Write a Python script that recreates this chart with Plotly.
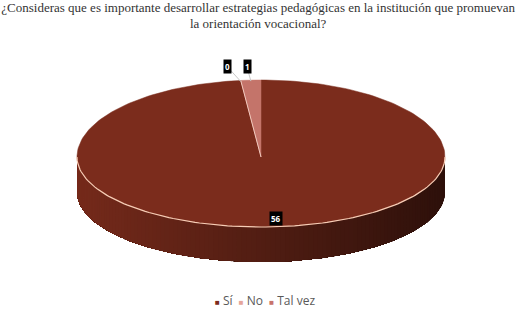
import math
import plotly.graph_objects as go

# ---- data ----
TITLE = "¿Consideras que es importante desarrollar estrategias pedagógicas en la institución que promuevan<br>la orientación vocacional?"
CATEGORIES = ["Sí", "No", "Tal vez"]
VALUES = [56, 0, 1]

# ---- style ----
COLORS = [(123, 44, 28), (229, 165, 154), (196, 116, 106)]
LEGEND_COLORS = ["#7b2c1c", "#e5a59a", "#c8736b"]
W, H = 529, 313
CX, CY = 261, 157
RX, RY_T, RY_B = 184, 77, 70
DEPTH = 35


def rim(theta_deg, k=1.0, dy=0.0):
    t = math.radians(theta_deg)
    c = math.cos(t)
    ry = RY_T if c > 0 else RY_B
    return CX + RX * k * math.sin(t), CY - ry * k * c + dy


def rgb(c, f=1.0):
    return "rgb(%d,%d,%d)" % tuple(max(0, min(255, round(v * f))) for v in c)


total = sum(VALUES)
starts, ends = [], []
acc = 0.0
for v in VALUES:
    starts.append(acc / total * 360)
    acc += v
    ends.append(acc / total * 360)


def slice_at(theta):
    for i, (s, e) in enumerate(zip(starts, ends)):
        if s <= theta < e and VALUES[i] > 0:
            return i
    return 0


fig = go.Figure()

# ---- side wall (front half, angles 90..270 clockwise from top) ----
N = 120
for j in range(N):
    a1 = 90 + 180 * j / N
    a2 = 90 + 180 * (j + 1) / N
    xs, ys = [], []
    steps = N - j
    for k in range(steps + 1):
        a = a1 + (270 - a1) * k / steps
        px, py = rim(a)
        xs.append(px)
        ys.append(py)
    bx = [p for p in reversed(xs)]
    by = [p + DEPTH for p in reversed(ys)]
    xm = (rim(a1)[0] + rim(a2)[0]) / 2
    u = (CX + RX - xm) / (2 * RX)  # 0 at right, 1 at left
    f = 0.37 + 0.58 * u
    col = rgb(COLORS[slice_at((a1 + a2) / 2)], f)
    fig.add_trace(go.Scatter(
        x=xs + bx + [xs[0]], y=ys + by + [ys[0]],
        mode="lines", fill="toself", fillcolor=col,
        line=dict(width=0), hoverinfo="skip", showlegend=False))

# ---- top face slices ----
for i, v in enumerate(VALUES):
    if v <= 0:
        continue
    n = max(4, int((ends[i] - starts[i]) / 1.5))
    xs, ys = [CX], [CY]
    for k in range(n + 1):
        a = starts[i] + (ends[i] - starts[i]) * k / n
        px, py = rim(a)
        xs.append(px)
        ys.append(py)
    xs.append(CX)
    ys.append(CY)
    fig.add_trace(go.Scatter(
        x=xs, y=ys, mode="lines", fill="toself", fillcolor=rgb(COLORS[i]),
        line=dict(color=rgb(COLORS[i]), width=0.5), hoverinfo="skip",
        showlegend=False))

# zero-size slice border
for i, v in enumerate(VALUES):
    if v == 0:
        px, py = rim(starts[i])
        fig.add_trace(go.Scatter(x=[CX, px], y=[CY, py], mode="lines",
                                 line=dict(color="#f1c9bd", width=1),
                                 hoverinfo="skip", showlegend=False))

# rim highlight on front edge
hx, hy = [], []
for k in range(121):
    px, py = rim(90 + 180 * k / 120)
    hx.append(px)
    hy.append(py)
fig.add_trace(go.Scatter(x=hx, y=hy, mode="lines",
                         line=dict(color="#f7cdb6", width=1.2),
                         hoverinfo="skip", showlegend=False))

# ---- data labels ----
LABEL_OFF = [(6, -11), (-13, -14), (-3, -14)]
annotations = []
for i, v in enumerate(VALUES):
    mid = (starts[i] + ends[i]) / 2
    frac = v / total
    if frac > 0.1:
        lx, ly = rim(mid, 0.86)
        lx += LABEL_OFF[i][0]
        ly += LABEL_OFF[i][1] + 12
    else:
        px, py = rim(mid)
        lx, ly = px + LABEL_OFF[i][0], py + LABEL_OFF[i][1]
        fig.add_trace(go.Scatter(x=[px, lx + (3 if LABEL_OFF[i][0] < -6 else 0)], y=[py + 1, ly + 4],
                                 mode="lines", line=dict(color="#c8c8c8", width=1),
                                 hoverinfo="skip", showlegend=False))
    annotations.append(dict(x=lx, y=ly, xref="x", yref="y", text="<b>%d</b>" % v,
                            showarrow=False, bgcolor="black",
                            font=dict(color="white", size=8),
                            borderpad=1))

# ---- legend (as text) ----
parts = []
for name, c in zip(CATEGORIES, LEGEND_COLORS):
    parts.append('<span style="color:%s;font-size:8px">■</span> %s' % (c, name))
annotations.append(dict(x=265, y=300, xref="x", yref="y", showarrow=False,
                        text="  ".join(parts),
                        font=dict(color="#595959", size=12)))

fig.update_layout(
    width=W, height=H,
    margin=dict(l=0, r=0, t=0, b=0),
    paper_bgcolor="white", plot_bgcolor="white",
    title=dict(text=TITLE, x=0.488, xanchor="center", xref="paper",
               y=0.963, yref="container", yanchor="top",
               font=dict(family="Liberation Serif", size=13, color="#333333")),
    xaxis=dict(range=[0, W], visible=False, fixedrange=True),
    yaxis=dict(range=[H, 0], visible=False, fixedrange=True),
    annotations=annotations,
    showlegend=False,
)

fig.write_html("out.html")
